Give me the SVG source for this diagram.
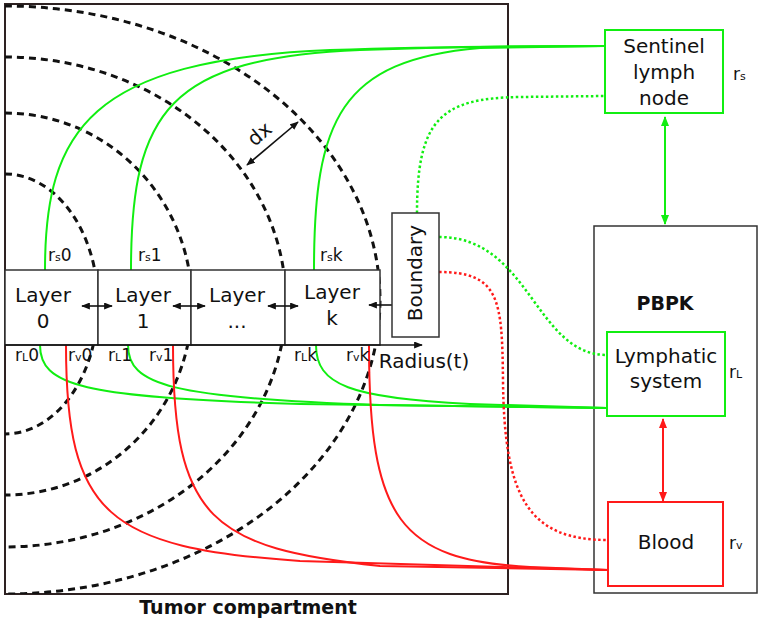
<svg xmlns="http://www.w3.org/2000/svg" width="762" height="624" viewBox="0 0 762 624">
<style>
text{font-family:"DejaVu Sans","Liberation Sans",sans-serif;fill:#111}
.t{font-size:20px;text-anchor:middle}
.b{font-size:19px;font-weight:bold;text-anchor:middle}
.lbl{font-size:17px}
.sub{font-size:11px}
.box{fill:#fff;stroke:#333;stroke-width:1.5}
.arc{fill:none;stroke:#111;stroke-width:3;stroke-dasharray:7 5}
.g{fill:none;stroke:#11ee11;stroke-width:2}
.r{fill:none;stroke:#ff1a1a;stroke-width:2}
.gd{fill:none;stroke:#11ee11;stroke-width:2.5;stroke-dasharray:2.5 2.5}
.rd{fill:none;stroke:#ff1a1a;stroke-width:2.5;stroke-dasharray:2.5 2.5}
.k{fill:none;stroke:#111;stroke-width:1.6}
</style>
<defs>
<clipPath id="tc"><rect x="5" y="4" width="503" height="590"/></clipPath>
<marker id="ak" viewBox="0 0 10 8" refX="9" refY="4" markerWidth="9" markerHeight="7" markerUnits="userSpaceOnUse" orient="auto-start-reverse"><path d="M0,0 L10,4 L0,8 z" fill="#111"/></marker>
<marker id="ag" viewBox="0 0 10 8" refX="9" refY="4" markerWidth="10" markerHeight="8" markerUnits="userSpaceOnUse" orient="auto-start-reverse"><path d="M0,0 L10,4 L0,8 z" fill="#11ee11"/></marker>
<marker id="ar" viewBox="0 0 10 8" refX="9" refY="4" markerWidth="10" markerHeight="8" markerUnits="userSpaceOnUse" orient="auto-start-reverse"><path d="M0,0 L10,4 L0,8 z" fill="#ff1a1a"/></marker>
</defs>
<rect width="762" height="624" fill="#fff"/>

<g id="tumor">
<rect x="5" y="4" width="503" height="590" fill="#fff" stroke="#2e2222" stroke-width="2"/>
<g clip-path="url(#tc)">
<path class="arc" d="M5,174 A93,130 0 0 1 5,434"/>
<path class="arc" d="M5,113 A187,191 0 0 1 5,495"/>
<path class="arc" d="M5,57 A281,245 0 0 1 5,547"/>
<path class="arc" d="M5,6 A375,294 0 0 1 5,594"/>
</g>
<text class="b" x="248" y="614">Tumor compartment</text>
<line class="k" x1="247" y1="165" x2="298" y2="122" marker-start="url(#ak)" marker-end="url(#ak)"/>
<text class="t" transform="translate(264,139) rotate(-40)">dx</text>
</g>

<g id="pbpk">
<rect x="594" y="226" width="163" height="367" fill="none" stroke="#333" stroke-width="1.5"/>
<text class="b" x="665" y="310">PBPK</text>
</g>

<g id="connectors">
<path class="g" d="M45,270 C45,130 90,60 330,50 Q450,46 605,46"/>
<path class="g" d="M131,270 C131,110 170,58 360,50 Q480,46 605,46"/>
<path class="g" d="M314,270 C314,120 340,60 480,48 L605,46"/>
<path class="g" d="M40,345 C40,385 80,398 300,404 L607,408"/>
<path class="g" d="M128,345 C128,385 170,398 380,405 L607,408"/>
<path class="g" d="M316,345 C316,385 350,398 470,404 L607,408"/>
<path class="r" d="M66,345 C66,515 108,548 300,561 L608,570"/>
<path class="r" d="M173,345 C173,520 212,548 380,566 L608,570"/>
<path class="r" d="M369,345 C369,520 400,560 530,567 L608,570"/>
<path class="gd" d="M417,213 C417,120 440,98 520,97 L605,96"/>
<path class="gd" d="M439,237 C530,237 535,355 607,355"/>
<path class="rd" d="M439,272 C500,272 502,300 503,380 C504,500 530,540 608,540"/>
<line x1="665" y1="117" x2="665" y2="224" stroke="#11ee11" stroke-width="2" marker-start="url(#ag)" marker-end="url(#ag)"/>
<line x1="663" y1="419" x2="663" y2="501" stroke="#ff1a1a" stroke-width="2" marker-start="url(#ar)" marker-end="url(#ar)"/>
</g>

<g id="layer0">
<rect class="box" x="5" y="270" width="93" height="75"/>
<text class="t" x="43" y="302">Layer</text>
<text class="t" x="43" y="328">0</text>
</g>
<g id="layer1">
<rect class="box" x="98" y="270" width="93" height="75"/>
<text class="t" x="143" y="302">Layer</text>
<text class="t" x="143" y="328">1</text>
</g>
<g id="layerdots">
<rect class="box" x="191" y="270" width="94" height="75"/>
<text class="t" x="237" y="302">Layer</text>
<text class="t" x="237" y="328">...</text>
</g>
<g id="layerk">
<rect class="box" x="285" y="270" width="95" height="75"/>
<text class="t" x="332" y="299">Layer</text>
<text class="t" x="332" y="325">k</text>
</g>
<g id="layer-arrows">
<line class="k" x1="82" y1="306" x2="112" y2="306" marker-start="url(#ak)" marker-end="url(#ak)"/>
<line class="k" x1="173" y1="306" x2="205" y2="306" marker-start="url(#ak)" marker-end="url(#ak)"/>
<line class="k" x1="268" y1="306" x2="298" y2="306" marker-start="url(#ak)" marker-end="url(#ak)"/>
<line class="k" x1="369" y1="305" x2="401" y2="305" marker-start="url(#ak)" marker-end="url(#ak)"/>
</g>
<g id="radius">
<line class="k" x1="5" y1="345" x2="422" y2="345" marker-end="url(#ak)"/>
<text class="t" x="424" y="368">Radius(t)</text>
</g>

<g id="rates">
<text class="lbl" x="48" y="261">r<tspan class="sub">s</tspan>0</text>
<text class="lbl" x="138" y="261">r<tspan class="sub">s</tspan>1</text>
<text class="lbl" x="320" y="261">r<tspan class="sub">s</tspan>k</text>
<text class="lbl" x="15" y="361">r<tspan class="sub">L</tspan>0</text>
<text class="lbl" x="68" y="361">r<tspan class="sub">v</tspan>0</text>
<text class="lbl" x="108" y="361">r<tspan class="sub">L</tspan>1</text>
<text class="lbl" x="149" y="361">r<tspan class="sub">v</tspan>1</text>
<text class="lbl" x="294" y="361">r<tspan class="sub">L</tspan>k</text>
<text class="lbl" x="346" y="361">r<tspan class="sub">v</tspan>k</text>
</g>

<g id="boundary">
<rect class="box" x="392" y="213" width="47" height="124"/>
<text class="t" transform="translate(422,273) rotate(-90)">Boundary</text>
</g>

<g id="sentinel">
<rect x="605" y="30" width="118" height="83" fill="#fff" stroke="#11ee11" stroke-width="2"/>
<text class="t" x="664" y="53">Sentinel</text>
<text class="t" x="664" y="79">lymph</text>
<text class="t" x="664" y="105">node</text>
<text class="lbl" x="733" y="80">r<tspan class="sub">s</tspan></text>
</g>

<g id="lymphatic">
<rect x="607" y="332" width="118" height="84" fill="#fff" stroke="#11ee11" stroke-width="2"/>
<text class="t" x="666" y="363">Lymphatic</text>
<text class="t" x="666" y="388">system</text>
<text class="lbl" x="729" y="378">r<tspan class="sub">L</tspan></text>
</g>

<g id="blood">
<rect x="608" y="502" width="115" height="84" fill="#fff" stroke="#ff1a1a" stroke-width="2"/>
<text class="t" x="666" y="549">Blood</text>
<text class="lbl" x="729" y="549">r<tspan class="sub">v</tspan></text>
</g>
</svg>
